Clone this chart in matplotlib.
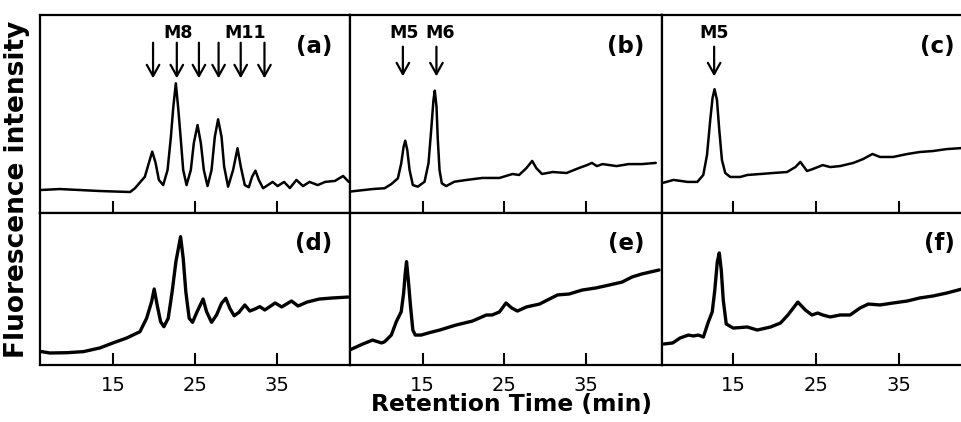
import matplotlib
matplotlib.use("Agg")
import matplotlib.pyplot as plt

plt.rcParams['font.family'] = ['DejaVu Sans']

# ---------------- data (retention time in min, intensity in arbitrary units) ----------------
a_t = [6.1, 8.5, 11.0, 13.4, 17.1, 17.69, 18.9, 19.39, 19.8, 20.21, 20.61, 21.14, 21.67, 22.08,
       22.36, 22.68, 22.97, 23.26, 23.58, 23.99, 24.51, 24.88, 25.33, 25.73, 26.1, 26.55, 27.04,
       27.44, 27.84, 28.26, 28.58, 29.06, 29.67, 30.21, 30.61, 31.1, 31.59, 31.99, 32.4, 32.81,
       33.33, 34.5, 35.1, 35.9, 36.6, 37.4, 38.2, 39.0, 40.0, 40.9, 42.1, 43.1, 43.8]
a_y = [11.6, 12.1, 11.6, 11.1, 10.6, 12.5, 18.3, 25.3, 31.0, 25.3, 16.7, 14.1, 21.7, 38.5,
       53.0, 65.5, 53.0, 38.5, 21.7, 14.1, 21.7, 35.4, 44.4, 35.4, 21.7, 13.6, 21.7,
       38.5, 47.3, 38.5, 23.4, 13.3, 21.7, 32.7, 23.4, 14.1, 13.0, 18.3, 21.4, 16.7,
       12.5, 15.7, 13.6, 15.7, 12.6, 16.7, 13.6, 15.7, 14.1, 15.7, 16.2, 18.7, 15.7]

b_t = [6.1, 8.9, 10.37, 11.19, 11.99, 12.4, 12.69, 12.89, 13.14, 13.42, 13.82, 14.43, 15.25,
       15.73, 16.06, 16.34, 16.5, 16.71, 16.87, 17.08, 17.36, 17.89, 18.9, 20.4, 22.3, 24.4,
       26.0, 26.8, 27.7, 28.4, 28.9, 29.6, 30.9, 32.6, 34.1, 35.1, 35.7, 36.3, 37.0, 38.7, 40.2,
       41.8, 43.5]
b_y = [10.8, 12.1, 12.5, 14.6, 17.5, 25.1, 33.5, 36.5, 31.8, 21.7, 14.1, 13.3, 15.8,
       25.1, 41.9, 57.1, 61.8, 53.7, 36.9, 21.7, 15.0, 13.6, 15.8, 16.7, 17.7, 17.7,
       19.7, 19.2, 22.7, 26.3, 22.7, 19.7, 20.7, 20.2, 22.7, 24.2, 25.3, 23.7, 24.7, 23.7, 24.7,
       24.7, 25.3]

c_t = [6.6, 7.8, 9.5, 10.67, 11.39, 11.84, 12.23, 12.51, 12.75, 13.04, 13.32, 13.64, 14.04,
       14.64, 15.85, 16.7, 18.3, 19.8, 21.5, 22.5, 23.1, 23.9, 24.6, 25.8, 26.7, 27.9, 29.5,
       30.7, 31.8, 32.7, 34.3, 36.0, 37.5, 39.1, 40.8, 42.6]
c_y = [15.3, 16.7, 15.7, 15.7, 19.2, 29.3, 47.0, 58.1, 62.5, 57.1, 41.9, 26.8, 20.2,
       18.2, 18.2, 19.2, 19.7, 20.2, 20.7, 23.2, 25.8, 21.2, 22.2, 24.2, 23.2, 23.7, 25.3,
       27.3, 29.8, 28.3, 28.3, 29.8, 30.8, 31.3, 32.3, 32.8]

d_t = [6.3, 7.3, 9.4, 11.4, 13.4, 15.0, 16.7, 18.3, 19.11, 19.72, 20.04, 20.4, 20.82, 21.22,
       21.75, 22.23, 22.69, 23.26, 23.58, 23.9, 24.31, 24.72, 25.28, 26.01, 26.43, 27.04, 27.65,
       28.26, 28.78, 29.27, 29.8, 30.4, 31.1, 31.71, 32.32, 32.93, 33.54, 34.15, 34.8, 35.6,
       36.8, 37.6, 38.7, 40.2, 41.8, 43.7]
d_y = [8.8, 7.9, 8.1, 8.8, 11.2, 14.5, 17.8, 21.9, 30.7, 41.6, 50.0, 39.5, 28.5, 25.2,
       30.7, 48.2, 68.0, 84.4, 70.2, 48.2, 30.7, 28.1, 35.1, 43.4, 35.1, 28.1, 32.9,
       40.6, 43.9, 37.3, 32.4, 34.7, 39.5, 35.5, 36.8, 38.4, 36.2, 38.4, 40.8, 38.2,
       42.1, 38.8, 41.4, 43.4, 44.1, 44.7]

e_t = [6.1, 7.7, 8.9, 10.0, 10.37, 11.19, 11.8, 12.4, 12.69, 12.89, 13.05, 13.3, 13.54, 13.82,
       14.11, 14.84, 15.86, 17.1, 19.1, 21.1, 22.8, 23.5, 24.4, 25.2, 25.9, 26.6, 27.7, 29.3,
       30.5, 31.5, 32.9, 34.5, 36.2, 37.8, 39.4, 40.6, 41.8, 43.9]
e_y = [9.9, 13.8, 16.4, 14.5, 15.3, 19.7, 28.5, 35.1, 47.2, 60.3, 68.0, 53.8, 38.4, 23.0,
       19.7, 19.7, 21.3, 23.0, 26.3, 28.9, 32.9, 32.9, 34.9, 40.8, 37.5, 35.5, 38.2, 40.1,
       43.4, 46.1, 46.7, 49.3, 50.7, 52.6, 54.6, 57.9, 59.9, 62.5]

f_t = [6.6, 7.7, 8.6, 9.6, 10.2, 10.8, 11.4, 12.0, 12.47, 12.78, 13.08, 13.32, 13.56, 13.8,
       14.16, 15.0, 16.7, 17.9, 19.5, 20.7, 21.6, 22.8, 23.7, 24.5, 25.2, 25.8, 26.7, 27.9,
       29.1, 30.3, 31.3, 32.7, 34.3, 36.0, 37.5, 39.1, 40.8, 42.6]
f_y = [13.8, 14.5, 17.8, 19.7, 19.1, 19.7, 18.4, 28.3, 34.9, 49.3, 67.8, 73.7, 62.5, 42.8,
       27.0, 24.3, 25.0, 23.0, 25.0, 27.6, 32.9, 41.4, 36.2, 32.9, 34.2, 32.9, 31.6, 32.9,
       32.9, 37.5, 40.1, 39.5, 40.8, 42.1, 44.1, 45.4, 47.4, 50.0]

panel_labels = ['(a)', '(b)', '(c)', '(d)', '(e)', '(f)']
tick_values = [15, 25, 35]

# arrows (retention time) and their labels
a_arrows = [19.9, 22.8, 25.5, 27.9, 30.6, 33.5]
a_names = ['M8', 'M11']
a_name_t = [22.9, 31.1]
b_arrows = [12.6, 16.7]
b_names = ['M5', 'M6']
b_name_t = [12.8, 17.1]
c_arrows = [12.7]
c_names = ['M5']
c_name_t = [12.7]

# ---------------- figure ----------------
fig = plt.figure(figsize=(9.62, 4.22), dpi=100)
gs = fig.add_gridspec(2, 3, left=40/962, right=1.0, top=1-15/422, bottom=1-365/422,
                      width_ratios=[310, 313, 300], height_ratios=[198, 152],
                      wspace=0, hspace=0)

series = [(a_t, a_y), (b_t, b_y), (c_t, c_y), (d_t, d_y), (e_t, e_y), (f_t, f_y)]
xlims = [(6.1, 43.9), (6.1, 44.3), (6.45, 42.6)]
label_x = [0.945, 0.943, 0.977]
label_y = [0.84, 0.80]
arrow_sets = {0: (a_arrows, a_names, a_name_t, 86, 68),
              1: (b_arrows, b_names, b_name_t, 84, 69),
              2: (c_arrows, c_names, c_name_t, 84, 69)}

for i in range(6):
    r, c = divmod(i, 3)
    ax = fig.add_subplot(gs[r, c])
    t, y = series[i]
    ax.plot(t, y, color='black', lw=1.8 if r == 0 else 2.4,
            solid_joinstyle='round', solid_capstyle='round')
    ax.set_xlim(*xlims[c])
    ax.set_ylim(0, 100)
    ax.set_yticks([])
    ax.set_xticks(tick_values)
    ax.tick_params(axis='x', direction='in', length=9, width=1.5, pad=8, labelsize=14)
    if r == 0:
        ax.tick_params(axis='x', labelbottom=False)
    for s in ax.spines.values():
        s.set_linewidth(1.6)
    if c == 2:
        ax.spines['right'].set_visible(False)
    ax.text(label_x[c], label_y[r], panel_labels[i], transform=ax.transAxes,
            ha='right', va='center', fontsize=16.5, fontweight='bold')

    if i in arrow_sets:
        arrows, names, name_t, y0, y1 = arrow_sets[i]
        for xa in arrows:
            ax.annotate('', xy=(xa, y1), xytext=(xa, y0),
                        arrowprops=dict(arrowstyle='->,head_length=0.45,head_width=0.25',
                                        lw=1.6, color='black',
                                        mutation_scale=18, shrinkA=0, shrinkB=0))
        for nm, xt in zip(names, name_t):
            ax.text(xt, 91, nm, ha='center', va='center', fontsize=12.5, fontweight='bold')

fig.text(512/962, 1-405/422, 'Retention Time (min)', ha='center', va='center',
         fontsize=16.8, fontweight='bold')
fig.text(17/962, 1-189/422, 'Fluorescence intensity', ha='center', va='center',
         rotation=90, fontsize=19, fontweight='bold')

fig.savefig('out.png', dpi=100)
